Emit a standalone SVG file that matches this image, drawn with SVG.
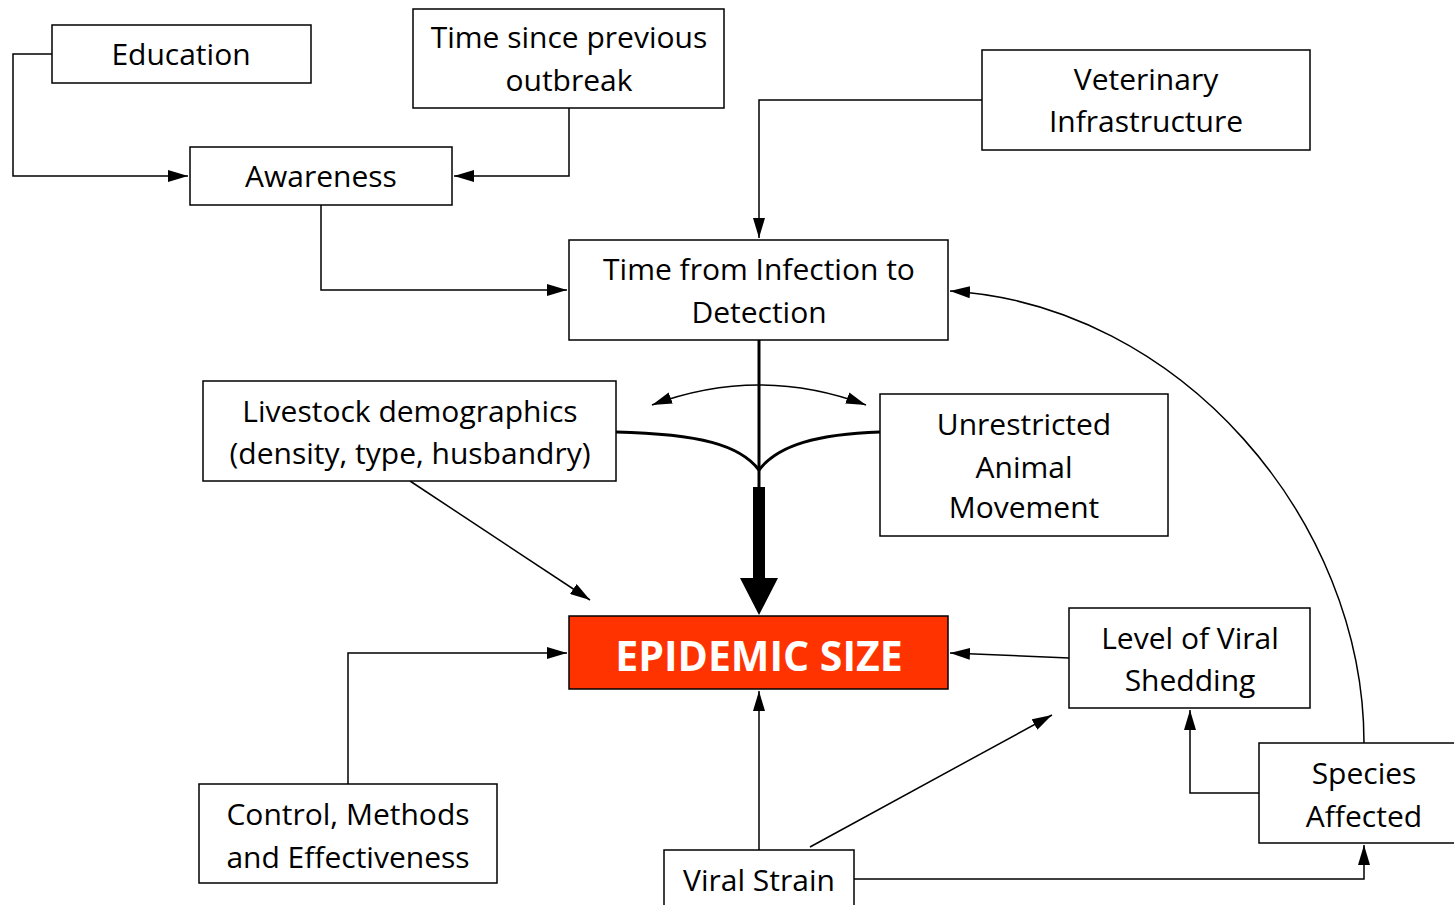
<svg xmlns="http://www.w3.org/2000/svg" width="1454" height="905" viewBox="0 0 1454 905">
<style>
.box{fill:#fff;stroke:#000;stroke-width:1.5}
.t{font-family:"Open Sans","Noto Sans",sans-serif;font-size:30px;fill:#000;text-anchor:middle}
.big{font-family:"Open Sans","Noto Sans",sans-serif;font-size:41px;font-weight:bold;fill:#fff;text-anchor:middle}
.c{fill:none;stroke:#000;stroke-width:1.5}
.th{fill:none;stroke:#000;stroke-width:3}
</style>
<defs>
<marker id="a" viewBox="0 0 20 12" refX="20" refY="6" markerWidth="20" markerHeight="12" markerUnits="userSpaceOnUse" orient="auto-start-reverse">
<path d="M0,0 L20,6 L0,12 Z" fill="#000"/>
</marker>
</defs>
<rect width="1454" height="905" fill="#fff"/>
<g id="connectors">
<path class="c" d="M52,54 H13 V176 H188" marker-end="url(#a)"/>
<path class="c" d="M569,108 V176 H454" marker-end="url(#a)"/>
<path class="c" d="M321,205 V290 H567" marker-end="url(#a)"/>
<path class="c" d="M982,100 H759 V238" marker-end="url(#a)"/>
<path class="c" d="M1364,743 C1364,520 1180,305 950,291" marker-end="url(#a)"/>
<path class="th" d="M759,340 V490"/>
<path class="th" d="M616,432 C700,434 740,445 759,470 C778,445 818,434 880,432"/>
<path class="c" d="M652,405 Q759,365 866,405" marker-start="url(#a)" marker-end="url(#a)"/>
<path d="M753,487 H765 V578 H778 L759,615 L740,578 H753 Z" fill="#000"/>
<path class="c" d="M410,481 L590,600" marker-end="url(#a)"/>
<path class="c" d="M348,784 V653 H567" marker-end="url(#a)"/>
<path class="c" d="M1069,658 L950,653" marker-end="url(#a)"/>
<path class="c" d="M759,850 V691" marker-end="url(#a)"/>
<path class="c" d="M810,847 L1052,715" marker-end="url(#a)"/>
<path class="c" d="M854,879 H1364 V845" marker-end="url(#a)"/>
<path class="c" d="M1259,793 H1190 V710" marker-end="url(#a)"/>
</g>
<g id="education"><rect class="box" x="52" y="25" width="259" height="58"/><text class="t" x="181" y="65">Education</text></g>
<g id="time-since"><rect class="box" x="413" y="9" width="311" height="99"/><text class="t" x="569" y="48">Time since previous</text><text class="t" x="569" y="91">outbreak</text></g>
<g id="awareness"><rect class="box" x="190" y="147" width="262" height="58"/><text class="t" x="321" y="187">Awareness</text></g>
<g id="veterinary"><rect class="box" x="982" y="50" width="328" height="100"/><text class="t" x="1146" y="90">Veterinary</text><text class="t" x="1146" y="132">Infrastructure</text></g>
<g id="time-detection"><rect class="box" x="569" y="240" width="379" height="100"/><text class="t" x="759" y="280">Time from Infection to</text><text class="t" x="759" y="323">Detection</text></g>
<g id="livestock"><rect class="box" x="203" y="381" width="413" height="100"/><text class="t" x="410" y="422">Livestock demographics</text><text class="t" x="410" y="464">(density, type, husbandry)</text></g>
<g id="movement"><rect class="box" x="880" y="394" width="288" height="142"/><text class="t" x="1024" y="435">Unrestricted</text><text class="t" x="1024" y="478">Animal</text><text class="t" x="1024" y="518">Movement</text></g>
<g id="epidemic"><rect x="569" y="616" width="379" height="73" fill="#ff3300" stroke="#000" stroke-width="1.5"/><text class="big" x="759" y="671">EPIDEMIC SIZE</text></g>
<g id="shedding"><rect class="box" x="1069" y="608" width="241" height="100"/><text class="t" x="1190" y="649">Level of Viral</text><text class="t" x="1190" y="691">Shedding</text></g>
<g id="species"><rect class="box" x="1259" y="743" width="205" height="100"/><text class="t" x="1364" y="784">Species</text><text class="t" x="1364" y="827">Affected</text></g>
<g id="control"><rect class="box" x="199" y="784" width="298" height="99"/><text class="t" x="348" y="825">Control, Methods</text><text class="t" x="348" y="868">and Effectiveness</text></g>
<g id="strain"><rect class="box" x="664" y="850" width="190" height="70"/><text class="t" x="759" y="891">Viral Strain</text></g>
</svg>
